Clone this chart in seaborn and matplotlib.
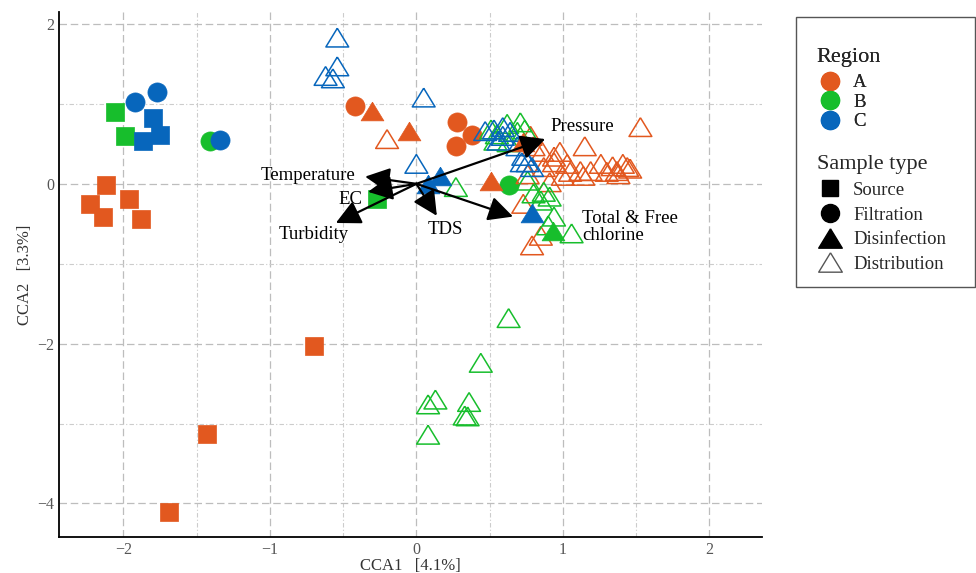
import numpy as np
import pandas as pd
import matplotlib
matplotlib.use("Agg")
import matplotlib.pyplot as plt
from matplotlib.lines import Line2D
from matplotlib.patches import Rectangle
import seaborn as sns

# ---------------- data (CCA1, CCA2) ----------------
source_A = [(-2.12, -0.01), (-2.23, -0.25), (-2.14, -0.42), (-1.96, -0.19), (-1.88, -0.44),
            (-0.70, -2.03), (-1.43, -3.13), (-1.69, -4.11)]
source_B = [(-2.06, 0.90), (-1.99, 0.60), (-0.27, -0.19)]
source_C = [(-1.80, 0.82), (-1.75, 0.61), (-1.87, 0.54)]

filtration_A = [(-0.42, 0.97), (0.28, 0.78), (0.38, 0.61), (0.27, 0.47)]
filtration_B = [(-1.41, 0.54), (0.63, -0.02)]
filtration_C = [(-1.92, 1.02), (-1.77, 1.15), (-1.34, 0.55)]

disinfection_A = [(-0.30, 0.91), (-0.05, 0.66), (0.51, 0.04), (0.73, 0.52)]
disinfection_B = [(0.93, -0.59)]
disinfection_C = [(0.79, -0.37), (0.08, 0.00), (0.16, 0.10)]

distribution_A = [(-0.20, 0.56), (1.53, 0.71), (1.15, 0.47), (0.98, 0.40), (1.26, 0.25),
                  (1.34, 0.22), (1.41, 0.25), (1.44, 0.21), (1.46, 0.19), (1.37, 0.16),
                  (1.30, 0.15), (1.19, 0.16), (1.12, 0.16), (1.05, 0.15), (1.00, 0.10),
                  (1.14, 0.10), (0.94, 0.27), (1.03, 0.25), (1.38, 0.12), (0.78, 0.60),
                  (0.80, 0.47), (0.86, 0.40), (0.87, 0.21), (0.76, 0.12), (0.94, 0.34),
                  (0.91, 0.02), (0.79, -0.77), (0.85, -0.65), (0.73, -0.25)]
distribution_B = [(0.51, 0.68), (0.55, 0.62), (0.62, 0.75), (0.71, 0.77), (0.69, 0.65),
                  (0.74, 0.68), (0.63, 0.52), (0.54, 0.54), (0.27, -0.04), (0.76, 0.04),
                  (0.80, -0.12), (0.87, -0.10), (0.91, -0.16), (0.85, -0.21), (0.94, -0.41),
                  (0.90, -0.52), (1.06, -0.62), (0.63, -1.68), (0.44, -2.24), (0.13, -2.70),
                  (0.08, -2.76), (0.36, -2.73), (0.33, -2.90), (0.35, -2.91), (0.08, -3.14)]
distribution_C = [(-0.54, 1.83), (-0.54, 1.47), (-0.62, 1.35), (-0.57, 1.32), (0.05, 1.08),
                  (0.00, 0.25), (0.47, 0.66), (0.53, 0.68), (0.59, 0.71), (0.59, 0.60),
                  (0.56, 0.54), (0.64, 0.65), (0.69, 0.47), (0.73, 0.35), (0.76, 0.27),
                  (0.79, 0.21), (0.72, 0.27)]

# environmental vectors (arrow tips)
env_names = ["Pressure", "Total & Free\nchlorine", "TDS", "Turbidity", "Temperature", "EC"]
env_x = [0.88, 0.66, 0.14, -0.55, -0.35, -0.33]
env_y = [0.56, -0.41, -0.40, -0.49, 0.09, -0.10]

regions = ["A", "B", "C"]
sample_types = ["Source", "Filtration", "Disinfection", "Distribution"]
region_colors = {"A": "#E2581F", "B": "#17BE2C", "C": "#0766BC"}

groups = {
    ("Source", "A"): source_A, ("Source", "B"): source_B, ("Source", "C"): source_C,
    ("Filtration", "A"): filtration_A, ("Filtration", "B"): filtration_B, ("Filtration", "C"): filtration_C,
    ("Disinfection", "A"): disinfection_A, ("Disinfection", "B"): disinfection_B, ("Disinfection", "C"): disinfection_C,
    ("Distribution", "A"): distribution_A, ("Distribution", "B"): distribution_B, ("Distribution", "C"): distribution_C,
}
rows = []
for (st, rg), pts in groups.items():
    for x, y in pts:
        rows.append({"CCA1": x, "CCA2": y, "Region": rg, "Type": st})
df = pd.DataFrame(rows)

# ---------------- style ----------------
sns.set_style("white")
plt.rcParams["font.family"] = ["Liberation Serif", "DejaVu Serif"]

tri = [(0, 0.82), (-1, -0.82), (1, -0.82), (0, 0.82)]
markers = {"Source": "s", "Filtration": "o", "Disinfection": tri, "Distribution": tri}
sizes = {"Source": 150, "Filtration": 190, "Disinfection": 270, "Distribution": 270}

fig = plt.figure(figsize=(9.76, 5.73), dpi=100)
ax = fig.add_axes([0.0605, 0.0628, 0.7202, 0.9162])

draw_order = ["Source", "Filtration", "Distribution", "Disinfection"]
for st in draw_order:
    for rg in regions:
        sub = df[(df["Type"] == st) & (df["Region"] == rg)]
        if sub.empty:
            continue
        c = region_colors[rg]
        if st == "Distribution":
            sns.scatterplot(data=sub, x="CCA1", y="CCA2", ax=ax, marker=markers[st],
                            s=sizes[st], facecolor="none", edgecolor=c, linewidth=1.1,
                            legend=False, zorder=3)
        else:
            sns.scatterplot(data=sub, x="CCA1", y="CCA2", ax=ax, marker=markers[st],
                            s=sizes[st], color=c, edgecolor=c, linewidth=0.5,
                            legend=False, zorder=3)

# arrows
for name, ex, ey in zip(env_names, env_x, env_y):
    ax.annotate("", xy=(ex, ey), xytext=(0, 0),
                arrowprops=dict(arrowstyle="-|>,head_length=1.0,head_width=0.5",
                                color="black", lw=1.6, mutation_scale=15,
                                shrinkA=0, shrinkB=0), zorder=5)

label_pos = {
    "Pressure": (1.13, 0.72, "center"),
    "Total & Free\nchlorine": (1.13, -0.54, "left"),
    "TDS": (0.20, -0.57, "center"),
    "Turbidity": (-0.70, -0.64, "center"),
    "Temperature": (-0.74, 0.10, "center"),
    "EC": (-0.45, -0.20, "center"),
}
for name in env_names:
    lx, ly, ha = label_pos[name]
    ax.text(lx, ly, name, ha=ha, va="center", fontsize=13.5, color="black",
            zorder=6, linespacing=1.0)

# axes styling
ax.set_xlim(-2.44, 2.36)
ax.set_ylim(-4.42, 2.15)
ax.set_xticks([-2, -1, 0, 1, 2])
ax.set_yticks([-4, -2, 0, 2])
ax.set_xticks(np.arange(-1.5, 2.0, 1.0), minor=True)
ax.set_yticks([-3, -1, 1], minor=True)
ax.grid(True, which="major", color="#BDBDBD", linestyle=(0, (6, 3)), linewidth=0.9)
ax.grid(True, which="minor", color="#CCCCCC", linestyle=(0, (4, 2, 1, 2)), linewidth=0.8)
ax.set_axisbelow(True)
for side in ["top", "right"]:
    ax.spines[side].set_visible(False)
for side in ["left", "bottom"]:
    ax.spines[side].set_color("black")
    ax.spines[side].set_linewidth(1.3)
ax.tick_params(axis="both", which="major", length=2.5, color="#7F7F7F", pad=1,
               labelsize=11.5, labelcolor="#555555", direction="out")
ax.tick_params(axis="both", which="minor", length=0)
ax.set_xlabel("CCA1   [4.1%]", fontsize=12, color="#333333")
ax.xaxis.set_label_coords(0.5, -0.055)
ax.xaxis.label.set_va("center")
ax.set_ylabel("CCA2   [3.3%]", fontsize=12, color="#333333", labelpad=3)

# legends
region_handles = [Line2D([], [], marker="o", linestyle="none", markersize=13,
                         markerfacecolor=region_colors[r], markeredgecolor=region_colors[r])
                  for r in regions]
type_handles = [
    Line2D([], [], marker="s", linestyle="none", markersize=12, color="black"),
    Line2D([], [], marker="o", linestyle="none", markersize=13, color="black"),
    Line2D([], [], marker=tri, linestyle="none", markersize=17, color="black"),
    Line2D([], [], marker=tri, linestyle="none", markersize=17, markerfacecolor="none",
           markeredgecolor="#555555", markeredgewidth=1.0),
]
leg1 = fig.legend(region_handles, regions, title="Region", loc="upper left",
                  bbox_to_anchor=(0.829, 0.93), frameon=False, fontsize=13.5,
                  title_fontsize=16, alignment="left", handletextpad=0.55,
                  handlelength=1.4, labelspacing=0.12, borderaxespad=0)
leg1._legend_box.sep = 5.5
leg2 = fig.legend(type_handles, sample_types, title="Sample type", loc="upper left",
                  bbox_to_anchor=(0.829, 0.742), frameon=False, fontsize=13.5,
                  title_fontsize=16, alignment="left", handletextpad=0.55,
                  handlelength=1.4, labelspacing=0.40, borderaxespad=0)
fig.add_artist(leg1)
fig.patches.append(Rectangle((0.8156, 0.499), 0.1834, 0.471, transform=fig.transFigure,
                             fill=False, edgecolor="#555555", linewidth=1.0))

fig.savefig("out.png", dpi=100)
